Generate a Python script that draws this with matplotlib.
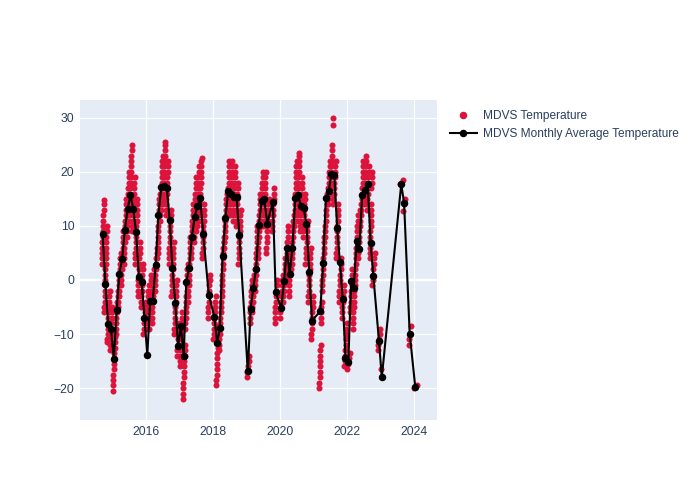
import matplotlib.pyplot as plt
from matplotlib.lines import Line2D
import pandas as pd

# monthly averages
avg_months = ['2014-09', '2014-10', '2014-11', '2014-12', '2015-01', '2015-02', '2015-03', '2015-04',
              '2015-05', '2015-06', '2015-07', '2015-08', '2015-09', '2015-10', '2015-11', '2015-12',
              '2016-01', '2016-02', '2016-03', '2016-04', '2016-05', '2016-06', '2016-07', '2016-08',
              '2016-09', '2016-10', '2016-11', '2016-12', '2017-01', '2017-02', '2017-03', '2017-04',
              '2017-05', '2017-06', '2017-07', '2017-08', '2017-09', '2017-11', '2018-01', '2018-02',
              '2018-03', '2018-04', '2018-05', '2018-06', '2018-07', '2018-08', '2018-09', '2018-10',
              '2019-01', '2019-02', '2019-03', '2019-04', '2019-05', '2019-06', '2019-07', '2019-08',
              '2019-10', '2019-11', '2020-01', '2020-02', '2020-03', '2020-04', '2020-05', '2020-06',
              '2020-07', '2020-08', '2020-09', '2020-10', '2020-11', '2020-12', '2021-03', '2021-04',
              '2021-05', '2021-06', '2021-07', '2021-08', '2021-09', '2021-10', '2021-11', '2021-12',
              '2022-01', '2022-02', '2022-03', '2022-04', '2022-05', '2022-06', '2022-07', '2022-08',
              '2022-09', '2022-10', '2022-12', '2023-01', '2023-08', '2023-09', '2023-11', '2024-01']
avg_temps = [8.6, -0.8, -8.2, -9.1, -14.6, -5.5, 1.1, 3.8,
             9.3, 13.2, 15.7, 13.2, 8.8, 0.5, -0.4, -7.0,
             -13.9, -3.9, -3.8, 2.8, 12.0, 17.2, 17.4, 17.0,
             11.1, 2.3, -4.2, -12.3, -8.5, -14.0, -0.4, 2.3,
             8.0, 11.7, 13.7, 15.1, 8.6, -2.7, -6.8, -11.7,
             -8.9, 4.5, 11.4, 16.5, 15.9, 15.4, 15.3, 8.3,
             -16.9, -5.3, -1.5, 2.0, 10.2, 14.7, 14.9, 10.4,
             14.5, -2.3, -5.2, -0.1, 5.9, 1.1, 5.9, 15.1,
             15.8, 13.7, 13.3, 10.4, 1.4, -7.5, -5.8, 3.1,
             15.1, 16.4, 19.7, 19.5, 9.7, 3.3, -3.6, -14.4,
             -15.1, -0.2, -1.4, 7.2, 5.8, 15.7, 16.7, 17.7,
             6.9, 0.7, -11.2, -18.0, 17.7, 14.3, -9.9, -19.8]

# individual readings (red dots), grouped by month
red_months = avg_months
red_temps = [
    [3, 4, 5, 6, 7, 8, 9, 10, 11, 12, 13, 14, 14.8],
    [-6, -5, -4, -3, -2, -1, 0, 1, 2, 3, 4, 5, 6, 7, 8, 9, 10],
    [-11.5, -11, -10, -9, -8, -7, -6, -5, -4, -3, -2],
    [-13, -12, -11, -10, -9, -8, -7, -6, -5],
    [-20.5, -19.5, -18.5, -17.5, -16.5, -15.5, -14.5, -13.5, -12.5, -11.5, -10.5],
    [-10, -9, -8, -7, -6, -5, -4, -3, -2],
    [-5, -4, -3, -2, -1, 0, 1, 2, 3, 4, 5],
    [-1, 0, 1, 2, 3, 4, 5, 6, 7, 8, 9],
    [3, 4, 5, 6, 7, 8, 9, 10, 11, 12, 13, 14, 15],
    [8, 9, 10, 11, 12, 13, 14, 15, 16, 17, 18, 19, 20],
    [11, 12, 13, 14, 15, 16, 17, 18, 19, 20, 21, 22, 23, 24, 25],
    [9, 10, 11, 12, 13, 14, 15, 16, 17, 18, 19],
    [3, 4, 5, 6, 7, 8, 9, 10, 11, 12, 13, 14, 15],
    [-3, -2, -1, 0, 1, 2, 3, 4, 5, 6, 7],
    [-5, -4, -3, -2, -1, 0, 1, 2, 3],
    [-10, -9, -8, -7, -6, -5, -4],
    [-9, -8, -7, -6, -5, -4, -3, -2, -1],
    [-9, -8, -7, -6, -5, -4, -3, -2, -1, 0, 1],
    [-8, -7, -6, -5, -4, -3, -2, -1, 0, 1, 2],
    [-2, -1, 0, 1, 2, 3, 4, 5, 6],
    [4, 5, 6, 7, 8, 9, 10, 11, 12, 13, 14, 15, 16],
    [11, 12, 13, 14, 15, 16, 17, 18, 19, 20, 21, 22, 23],
    [14, 15, 16, 17, 18, 19, 20, 21, 22, 23, 24, 25, 25.6],
    [12, 13, 14, 15, 16, 17, 18, 19, 20, 21, 22],
    [3, 4, 5, 6, 7, 8, 9, 10, 11, 12, 13],
    [-3, -2, -1, 0, 1, 2, 3, 4, 5, 6, 7],
    [-10, -9, -8, -7, -6, -5, -4, -3, -2, -1, 0],
    [-14, -13, -12, -11, -10, -9, -8],
    [-16, -15, -14, -13, -12, -11, -10, -9, -8, -7, -6],
    [-22, -21, -20, -19, -18, -17, -16, -15, -14, -13, -12],
    [-9, -8, -7, -6, -5, -4, -3, -2, -1, 0, 1, 2, 3],
    [-4, -3, -2, -1, 0, 1, 2, 3, 4, 5, 6, 7, 8],
    [4, 5, 6, 7, 8, 9, 10, 11, 12, 13, 14],
    [7, 8, 9, 10, 11, 12, 13, 14, 15, 16, 17, 18, 19],
    [9, 10, 11, 12, 13, 14, 15, 16, 17, 18, 19, 20, 21],
    [11, 12, 13, 14, 15, 16, 17, 18, 19, 20, 21, 22, 22.5],
    [4, 5, 6, 7, 8, 9, 10, 11, 12, 13, 14],
    [-7, -6, -5, -4, -3, -2, -1, 0, 1],
    [-11, -10, -9, -8, -7, -6, -5, -4, -3],
    [-19.5, -18.5, -17.5, -16.5, -15.5, -14.5, -13.5, -12.5, -11.5, -10.5, -9.5, -8.5],
    [-13, -12, -11, -10, -9, -8, -7, -6, -5],
    [-4, -3, -2, -1, 0, 1, 2, 3, 4, 5, 6, 7, 8],
    [6, 7, 8, 9, 10, 11, 12, 13, 14, 15, 16],
    [12, 13, 14, 15, 16, 17, 18, 19, 20, 21, 22],
    [12, 13, 14, 15, 16, 17, 18, 19, 20, 21, 22],
    [11, 12, 13, 14, 15, 16, 17, 18, 19, 20, 21],
    [10, 11, 12, 13, 14, 15, 16, 17, 18],
    [3, 4, 5, 6, 7, 8, 9, 10, 11, 12, 13],
    [-18, -17, -16, -15, -14],
    [-8, -7, -6, -5, -4, -3, -2, -1, 0],
    [-6, -5, -4, -3, -2, -1, 0, 1, 2],
    [-2, -1, 0, 1, 2, 3, 4, 5, 6, 7, 8, 9, 10],
    [4, 5, 6, 7, 8, 9, 10, 11, 12, 13, 14, 15, 16],
    [10, 11, 12, 13, 14, 15, 16, 17, 18, 19, 20],
    [10, 11, 12, 13, 14, 15, 16, 17, 18, 19, 20],
    [5, 6, 7, 8, 9, 10, 11, 12, 13, 14, 15],
    [9, 10, 11, 12, 13, 14, 15, 16, 17],
    [-8, -7, -6, -5, -4, -3, -2, -1, 0],
    [-7, -6, -5, -4, -3, -2, -1, 0, 1],
    [-4, -3, -2, -1, 0, 1, 2, 3, 4],
    [0, 1, 2, 3, 4, 5, 6, 7, 8, 9, 10],
    [-3, -2, -1, 0, 1, 2, 3, 4, 5],
    [2, 3, 4, 5, 6, 7, 8, 9, 10, 11, 12],
    [10, 11, 12, 13, 14, 15, 16, 17, 18, 19, 20, 21, 22],
    [11, 12, 13, 14, 15, 16, 17, 18, 19, 20, 21, 22, 23, 23.5],
    [9, 10, 11, 12, 13, 14, 15, 16, 17, 18, 19],
    [8, 9, 10, 11, 12, 13, 14, 15, 16],
    [3, 4, 5, 6, 7, 8, 9, 10, 11],
    [-4, -3, -2, -1, 0, 1, 2, 3, 4, 5, 6],
    [-11, -10, -9, -8, -7, -6, -5, -4, -3],
    [-20, -19, -18, -17, -16, -15, -14, -13, -12, -8, -7, -6, -5, -4],
    [-2, -1, 0, 1, 2, 3, 4, 5, 6, 7, 8],
    [8, 9, 10, 11, 12, 13, 14, 15, 16],
    [14, 15, 16, 17, 18, 19, 20, 21, 22],
    [16, 17, 18, 19, 20, 21, 22, 23, 24, 25, 28.7, 30],
    [14, 15, 16, 17, 18, 19, 20, 21, 22],
    [4, 5, 6, 7, 8, 9, 10, 11, 12, 13, 14],
    [-4, -3, -2, -1, 0, 1, 2, 3, 4],
    [-7, -6, -5, -4, -3, -2, -1],
    [-16, -15, -14, -13, -12, -11, -10, -9, -8],
    [-16.5, -15.5, -14.5, -13.5],
    [-6, -5, -4, -3, -2, -1, 0, 1, 2],
    [-9, -8, -7, -6, -5, -4, -3, -2, -1, 0, 1],
    [2, 3, 4, 5, 6, 7, 8, 9, 10, 11, 12],
    [4, 5, 6, 7, 8, 9, 10, 11, 12, 13, 14],
    [12, 13, 14, 15, 16, 17, 18, 19, 20, 21, 22],
    [14, 15, 16, 17, 18, 19, 20, 21, 22, 23],
    [13, 14, 15, 16, 17, 18, 19, 20, 21],
    [4, 5, 6, 7, 8, 9, 10, 11, 12, 13, 14, 17, 18, 19, 20],
    [-1, 0, 1, 2, 3, 4, 5],
    [-13, -12, -11, -10, -9],
    [-16.5],
    [17.7, 18.5],
    [12.7, 14, 15],
    [-12, -11, -10, -8.5],
    [-20, -19.4],
]

plt.rcParams['font.family'] = ['Liberation Sans', 'DejaVu Sans']
txt = '#2a3f5f'

fig = plt.figure(figsize=(7, 5), dpi=100)
ax = fig.add_axes([80 / 700, 80 / 500, 357 / 700, 320 / 500])
ax.set_facecolor('#E5ECF6')

# spread each month's readings over the days of that month
xs, ys = [], []
for m, vals in zip(red_months, red_temps):
    start = pd.Timestamp(m + '-01')
    n = len(vals)
    for i, v in enumerate(vals):
        xs.append(start + pd.Timedelta(days=2 + i * 26 / max(n - 1, 1)))
        ys.append(v)

ax.scatter(xs, ys, s=19, color='#DC143C', linewidths=0, zorder=2)

avg_x = [pd.Timestamp(m + '-15') for m in avg_months]
ax.plot(avg_x, avg_temps, color='black', lw=1.5, marker='o', ms=4.4, zorder=3)

ax.set_xlim(pd.Timestamp('2014-01-11'), pd.Timestamp('2024-09-08'))
ax.set_ylim(-25.9, 33.3)
years = list(range(2016, 2025, 2))
ax.set_xticks([pd.Timestamp(f'{y}-01-01') for y in years])
ax.set_xticklabels([str(y) for y in years])
ax.set_yticks([-20, -10, 0, 10, 20, 30])
ax.grid(color='white', lw=0.9)
ax.axhline(0, color='white', lw=1.6, zorder=1)
ax.set_axisbelow(True)
for s in ax.spines.values():
    s.set_visible(False)
ax.tick_params(length=0, labelsize=8.7, labelcolor=txt, pad=4)

handles = [
    Line2D([], [], ls='none', marker='o', ms=4.4, color='#DC143C'),
    Line2D([], [], color='black', lw=1.5, marker='o', ms=4.4),
]
fig.legend(handles, ['MDVS Temperature', 'MDVS Monthly Average Temperature'],
           loc='upper left', bbox_to_anchor=(439 / 700, 1 - 99 / 500), frameon=False,
           fontsize=8.6, labelcolor=txt, handlelength=2.25, handletextpad=0.55, labelspacing=0.5)

fig.savefig('out.png', dpi=100)
